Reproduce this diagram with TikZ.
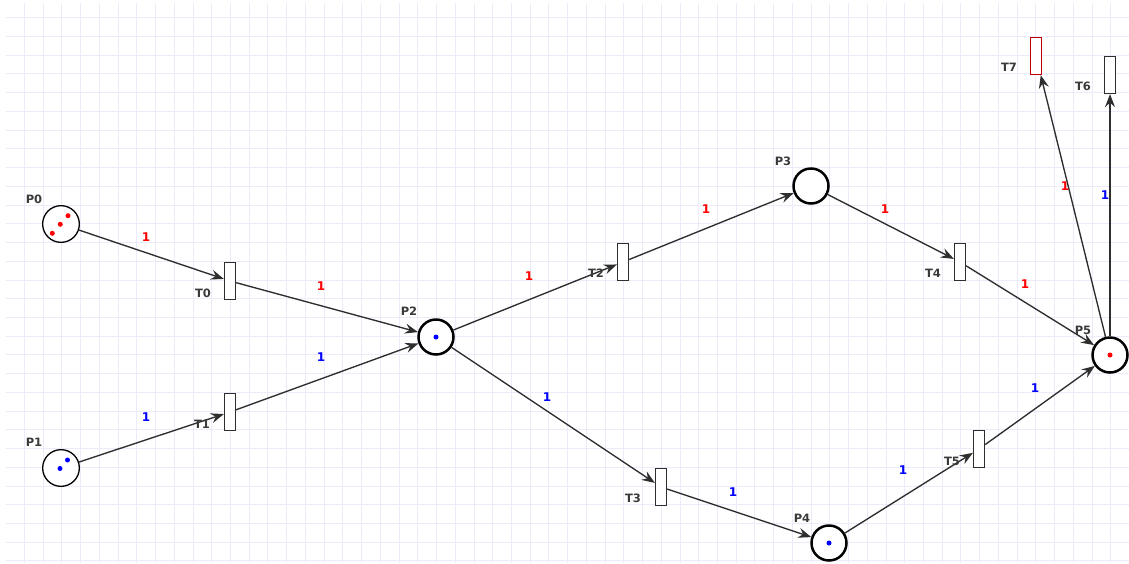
\documentclass[tikz,border=0pt]{standalone}
\usepackage{fontspec}
\setmainfont{DejaVu Sans}[BoldFont={DejaVu Sans Bold}]
\usetikzlibrary{arrows.meta}
\definecolor{gridc}{HTML}{EBEBFA}
\definecolor{linec}{HTML}{2E2E2E}
\definecolor{labc}{HTML}{3A3A3A}
\definecolor{wred}{HTML}{FF0000}
\definecolor{wblue}{HTML}{0000FF}
\definecolor{tred}{HTML}{C00000}
\tikzset{
  place/.style={circle,draw=black,fill=white,line width=1.3pt,minimum size=36.7pt,inner sep=0pt},
  bplace/.style={place,line width=2.5pt,minimum size=35pt},
  trans/.style={rectangle,draw=linec,fill=white,line width=1.3pt,minimum width=11pt,minimum height=37pt,inner sep=0pt},
  lab/.style={font=\fontsize{11.5}{13}\selectfont\bfseries,text=labc,inner sep=0pt},
  wr/.style={font=\fontsize{12}{13}\selectfont\bfseries,text=wred,inner sep=0pt},
  wb/.style={font=\fontsize{12}{13}\selectfont\bfseries,text=wblue,inner sep=0pt},
  arc/.style={draw=linec,line width=1.35pt,-{Stealth[length=13pt,width=10pt,inset=4.5pt]}},
}
\begin{document}
\begin{tikzpicture}[x=1pt,y=-1pt]
\useasboundingbox (0,0) rectangle (1129,563);
\fill[white] (0,0) rectangle (1129,563);
% grid
\foreach \k in {0,...,58} {
  \pgfmathsetmacro{\gx}{round(24+18.73*\k)+0.5}
  \draw[gridc,line width=1pt] (\gx,3) -- (\gx,563);
}
\foreach \k in {0,...,29} {
  \pgfmathsetmacro{\gy}{round(18.3+18.73*\k)-0.5}
  \draw[gridc,line width=1pt] (6,\gy) -- (1129,\gy);
}
% places
\node[place]  (P0) at (61,224) {};
\node[place]  (P1) at (61,468) {};
\node[bplace] (P2) at (436,337) {};
\node[bplace] (P3) at (811,186) {};
\node[bplace] (P4) at (829,543) {};
\node[bplace] (P5) at (1110,355) {};
% transitions
\node[trans] (T0) at (230,281) {};
\node[trans] (T1) at (230,412) {};
\node[trans] (T2) at (623,262) {};
\node[trans] (T3) at (661,487) {};
\node[trans] (T4) at (960,262) {};
\node[trans] (T5) at (979,449) {};
\node[trans] (T6) at (1110,75) {};
\node[trans,draw=tred] (T7) at (1036,56) {};
% tokens
\fill[wred] (52.3,233.3) circle (2.5pt) (60.3,224.3) circle (2.5pt) (68,215.7) circle (2.5pt);
\fill[wblue] (60,468.5) circle (2.5pt) (67.5,460) circle (2.5pt);
\fill[wblue] (P2.center) circle (2.5pt);
\fill[wblue] (P4.center) circle (2.5pt);
\fill[wred] (P5.center) circle (2.5pt);
% arcs
\draw[arc] (P0) -- (T0);
\draw[arc] (T0) -- (P2);
\draw[arc] (P1) -- (T1);
\draw[arc] (T1) -- (P2);
\draw[arc] (P2) -- (T2);
\draw[arc] (T2) -- (P3);
\draw[arc] (P3) -- (T4);
\draw[arc] (T4) -- (P5);
\draw[arc] (P2) -- (T3);
\draw[arc] (T3) -- (P4);
\draw[arc] (P4) -- (T5);
\draw[arc] (T5) -- (P5);
\draw[arc] (P5) -- (T7);
\draw[arc] (P5) -- (T6);
% labels
\node[lab] (LP0) at (34,199) {P0};
\node[lab] (LP1) at (34,442) {P1};
\node[lab] (LP2) at (409,311) {P2};
\node[lab] (LP3) at (783,161) {P3};
\node[lab] (LP4) at (802,518) {P4};
\node[lab] (LP5) at (1083,330) {P5};
\node[lab] (LT0) at (203,293) {T0};
\node[lab] (LT1) at (202,424) {T1};
\node[lab] (LT2) at (596,273) {T2};
\node[lab] (LT3) at (633,498) {T3};
\node[lab] (LT4) at (933,273) {T4};
\node[lab] (LT5) at (952,461) {T5};
\node[lab] (LT6) at (1083,86) {T6};
\node[lab] (LT7) at (1009,67) {T7};
% weights
\node[wr] (w1) at (146,237) {1};
\node[wr] (w2) at (321,286) {1};
\node[wb] (w3) at (146,417) {1};
\node[wb] (w4) at (321,357) {1};
\node[wr] (w5) at (529,276) {1};
\node[wr] (w6) at (706,209) {1};
\node[wr] (w7) at (885,209) {1};
\node[wr] (w8) at (1025,284) {1};
\node[wb] (w9) at (547,397) {1};
\node[wb] (w10) at (733,492) {1};
\node[wb] (w11) at (903,470) {1};
\node[wb] (w12) at (1035,388) {1};
\node[wr] (w13) at (1065,186) {1};
\node[wb] (w14) at (1105,195) {1};
\end{tikzpicture}
\end{document}
